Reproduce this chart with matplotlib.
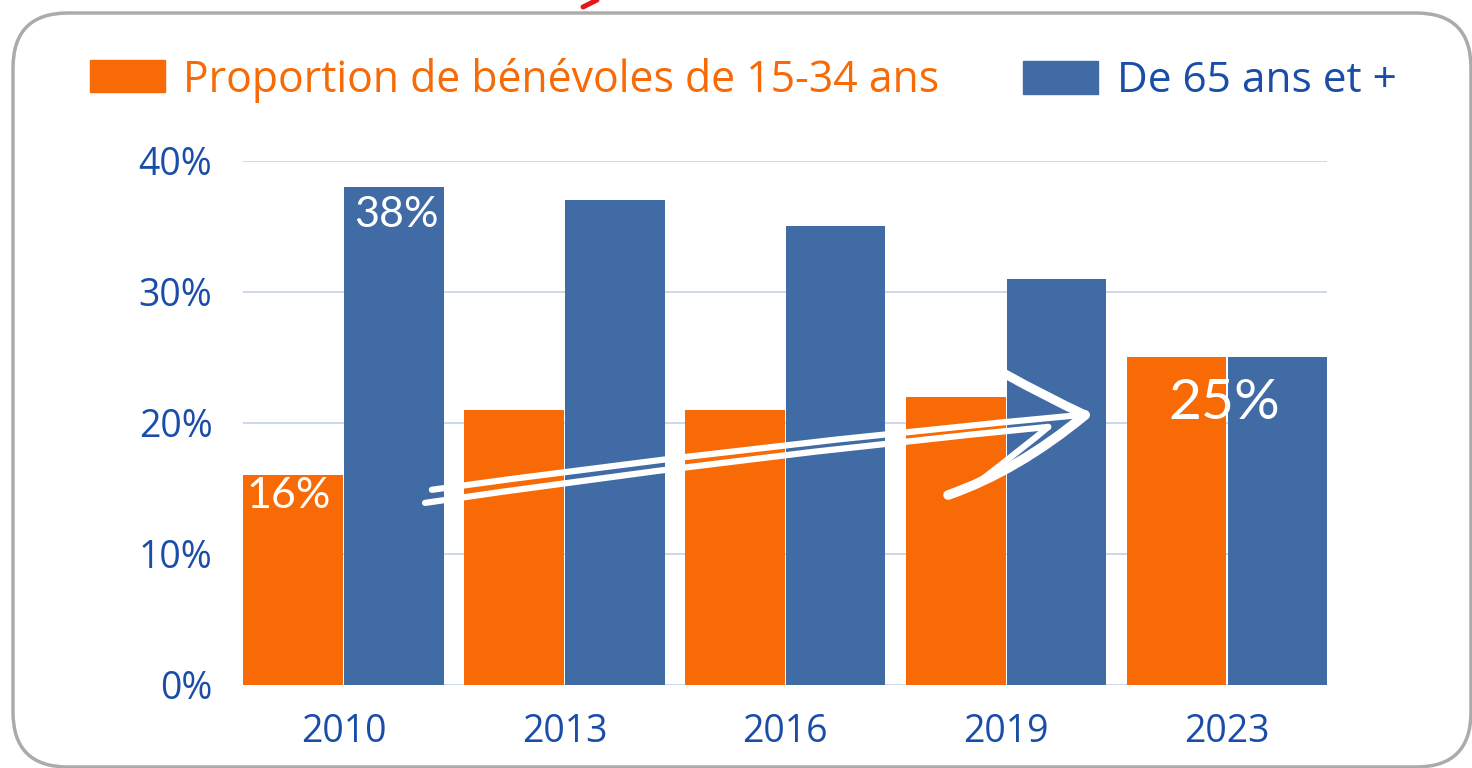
import numpy as np
import matplotlib.pyplot as plt
from matplotlib.patches import FancyBboxPatch, Rectangle, PathPatch
from matplotlib.path import Path

# données
years = ['2010', '2013', '2016', '2019', '2023']
jeunes = [16, 21, 21, 22, 25]     # 15-34 ans
seniors = [38, 37, 35, 31, 25]    # 65 ans et +
y_ticks = [0, 10, 20, 30, 40]
legend_labels = ['Proportion de bénévoles de 15-34 ans', 'De 65 ans et +']

orange = '#F76A05'
blue = '#416BA5'
text_blue = '#1A4DA8'
grid_col = '#C8D5E8'

plt.rcParams['font.family'] = ['Open Sans', 'DejaVu Sans']

fig = plt.figure(figsize=(14.72, 7.68), dpi=100)
ax = fig.add_axes([0.1651, 0.1081, 0.7364, 0.6823])

x = np.arange(len(years))
w = 0.45
ax.bar(x - 0.228, jeunes, w, color=orange, zorder=2)
ax.bar(x + 0.228, seniors, w, color=blue, zorder=2)

ax.set_xlim(-0.455, 4.452)
ax.set_ylim(0, 40)
ax.set_yticks(y_ticks)
ax.set_yticklabels([f'{v}%' for v in y_ticks])
ax.set_xticks(x)
ax.set_xticklabels(years)
ax.tick_params(axis='y', length=0, pad=22, labelsize=27, labelcolor=text_blue)
ax.tick_params(axis='x', length=0, pad=20, labelsize=27, labelcolor=text_blue)
for s in ax.spines.values():
    s.set_visible(False)
for v in y_ticks:
    ax.axhline(v, color=grid_col, lw=1.3, zorder=1)

# étiquettes sur les barres
lab_font = ['Lato', 'DejaVu Sans']
ax.annotate(f'{jeunes[0]}%', (x[0] - 0.228, jeunes[0]), xytext=(-3, -15),
            textcoords='offset points', ha='center', va='center',
            color='white', fontsize=31, family=lab_font, zorder=4)
ax.annotate(f'{seniors[0]}%', (x[0] + 0.228, seniors[0]), xytext=(2, -20),
            textcoords='offset points', ha='center', va='center',
            color='white', fontsize=31, family=lab_font, zorder=4)
ax.annotate(f'{jeunes[4]}%', (x[4], jeunes[4]), xytext=(-2, -33),
            textcoords='offset points', ha='center', va='center',
            color='white', fontsize=41, family=lab_font, zorder=4)

# flèche dessinée à la main (blanche)
def curve(p0, c, p1, lw):
    path = Path([p0, c, p1], [Path.MOVETO, Path.CURVE3, Path.CURVE3])
    ax.add_patch(PathPatch(path, fill=False, edgecolor='white', lw=lw,
                           capstyle='round', joinstyle='round', zorder=3))

curve((0.40, 14.9), (1.877, 18.35), (3.33, 20.6), 4.5)
curve((0.369, 13.9), (1.78, 17.4), (3.19, 19.7), 4.5)
curve((3.19, 19.7), (3.10, 18.4), (2.86, 15.3), 4.5)
curve((2.995, 23.74), (3.18, 22.0), (3.357, 20.61), 6.5)
curve((3.357, 20.61), (3.05, 16.34), (2.737, 14.5), 7.0)

# légende
fig.add_artist(Rectangle((0.0611, 0.8802), 0.05095, 0.04167,
                         transform=fig.transFigure, color=orange))
fig.add_artist(Rectangle((0.695, 0.8776), 0.05095, 0.043,
                         transform=fig.transFigure, color=blue))
fig.text(0.1243, 0.880, legend_labels[0], color=orange, fontsize=30.8, va='baseline')
fig.text(0.7588, 0.880, legend_labels[1], color=text_blue, fontsize=30.5, va='baseline')

# cadre arrondi
fig.add_artist(FancyBboxPatch((0.13, 0.01), 14.58, 7.54,
                              boxstyle='round,pad=0,rounding_size=0.55',
                              transform=fig.dpi_scale_trans, fill=False,
                              edgecolor='#ABABAB', lw=2.5))
fig.add_artist(plt.Line2D([5.83, 5.97], [7.61, 7.68], transform=fig.dpi_scale_trans,
                          color='#E5171E', lw=3.6, solid_capstyle='round'))

fig.savefig('out.png', dpi=100)
